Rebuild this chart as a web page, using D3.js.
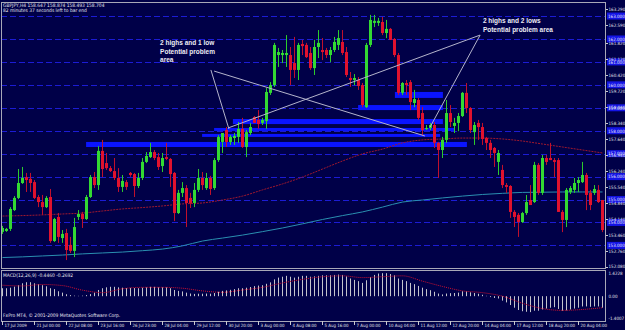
<!DOCTYPE html>
<html>
<head>
<meta charset="utf-8">
<script src="https://cdn.jsdelivr.net/npm/d3@7"></script>
<style>
  body { margin: 0; background: #000048; }
  svg { display: block; }
</style>
</head>
<body>
<div id="chart"></div>
<script>
// GBPJPY H4 candles: [open, high, low, close]
const bars = [
  [153.59,153.85,153.50,153.76],[153.63,153.76,153.59,153.72],[153.72,154.67,153.63,154.59],[154.54,155.15,154.50,155.07],
  [155.07,156.33,155.02,155.72],[155.72,156.42,155.68,155.94],[155.98,156.16,155.33,155.85],[155.90,156.16,155.33,155.72],
  [155.76,155.85,155.02,155.07],[155.11,155.20,154.67,154.89],[154.89,155.20,154.33,154.67],[154.67,155.15,154.63,155.07],
  [155.11,155.46,153.11,153.19],[153.19,154.20,153.15,154.15],[154.24,154.41,153.11,153.37],[153.32,153.67,153.11,153.50],
  [153.54,153.72,152.36,152.80],[153.02,153.37,152.67,152.76],[152.76,154.20,152.49,153.80],[154.24,154.54,154.11,154.37],
  [154.37,154.46,153.76,154.15],[154.15,155.20,154.11,155.11],[155.11,156.07,155.07,155.98],[155.98,156.20,155.50,155.63],
  [155.63,157.33,155.42,157.12],[157.12,157.60,155.98,156.33],[156.59,157.03,156.29,156.37],[156.37,156.46,156.20,156.24],
  [156.24,156.81,155.85,155.94],[155.94,156.37,155.33,155.55],[155.55,156.07,155.33,155.81],[155.76,155.85,155.42,155.55],
  [156.16,156.20,155.99,156.07],[156.11,156.16,155.11,155.59],[155.59,156.16,155.50,155.94],[155.94,156.81,155.85,156.64],
  [156.64,157.07,156.59,156.90],[156.85,157.47,156.81,157.07],[157.07,157.16,156.72,156.81],[156.85,157.03,156.29,156.42],
  [156.46,157.03,156.20,156.81],[156.85,157.47,156.72,156.77],[156.77,156.81,155.55,156.11],[156.16,156.20,154.06,154.41],
  [154.41,155.42,154.37,155.29],[155.29,155.76,155.11,155.50],[155.50,155.63,153.80,154.85],[155.07,155.29,154.63,154.85],
  [154.85,155.72,154.67,155.42],[155.42,156.33,155.33,155.94],[155.94,156.20,155.42,155.63],[155.50,156.16,155.42,155.94],
  [155.94,156.03,155.20,155.46],[155.50,156.81,155.42,156.72],[156.72,157.81,156.64,157.73],[157.51,157.90,157.03,157.90],
  [158.03,158.16,157.29,157.51],[157.51,157.81,157.38,157.73],[157.68,157.90,157.38,157.77],[157.73,158.38,157.47,158.08],
  [158.08,158.56,157.25,157.29],[157.29,158.03,156.85,157.94],[157.90,158.34,157.81,158.16],[158.60,158.64,158.34,158.34],
  [158.47,158.90,158.08,158.29],[158.34,158.56,158.25,158.47],[158.42,159.86,158.08,159.69],[159.65,160.12,159.56,159.99],
  [159.99,161.83,159.91,161.74],[161.30,161.61,160.78,161.43],[161.30,161.52,160.95,161.39],[161.30,162.17,160.78,161.39],
  [161.30,161.65,159.99,160.65],[160.95,162.09,160.30,160.65],[160.65,161.83,160.21,161.74],[161.78,161.96,161.30,161.69],
  [161.74,161.83,161.17,161.21],[161.39,161.65,160.65,160.73],[160.73,161.96,160.43,161.65],[161.65,162.39,161.17,161.83],
  [161.52,162.04,161.08,161.43],[161.52,161.61,161.17,161.30],[161.30,161.65,160.99,161.52],[161.52,162.09,161.43,161.87],
  [161.74,162.39,161.52,162.04],[161.87,162.39,161.30,161.39],[161.43,161.65,160.34,160.43],[160.30,160.56,159.91,160.21],
  [160.21,160.47,159.99,160.30],[160.21,160.34,159.78,159.95],[159.99,160.08,159.03,159.12],[159.03,161.83,158.99,161.74],
  [161.74,163.05,161.65,162.83],[162.70,163.05,162.52,162.79],[162.70,162.92,162.57,162.79],[162.74,162.96,162.17,162.26],
  [162.26,162.83,162.04,162.44],[162.44,162.48,161.96,161.96],[162.00,162.04,161.21,161.30],[161.30,161.39,159.56,159.65],
  [159.65,160.12,159.56,160.08],[160.08,160.21,159.56,159.99],[160.12,160.21,158.90,159.25],[159.21,159.78,159.03,159.38],
  [159.34,159.43,158.47,158.56],[158.77,159.03,157.81,158.03],[158.08,158.25,158.03,158.12],[158.12,158.34,158.03,158.25],
  [158.25,158.38,157.25,157.47],[157.47,157.51,155.94,157.16],[157.16,157.73,156.81,157.60],[157.60,159.34,157.47,158.77],
  [158.77,159.12,158.16,158.38],[158.21,158.56,157.90,158.34],[158.34,158.77,157.98,158.64],[158.64,159.69,158.60,159.65],
  [159.65,160.08,158.77,158.99],[158.99,159.03,157.90,158.03],[157.94,158.38,157.38,158.25],[158.34,158.47,157.60,158.16],
  [158.16,158.34,157.38,157.64],[157.68,157.73,157.16,157.47],[157.47,157.60,156.81,157.16],[157.25,157.29,156.42,157.03],
  [156.64,157.16,156.07,157.03],[156.29,156.51,155.50,155.63],[155.63,155.72,155.29,155.55],[155.59,155.63,154.20,154.46],
  [154.46,154.54,153.80,154.24],[154.33,154.41,153.37,154.02],[154.02,154.46,153.98,154.41],[154.41,155.20,154.33,154.89],
  [154.98,155.63,154.76,154.76],[154.89,156.64,154.85,156.51],[156.51,156.59,155.20,155.29],[155.29,156.94,155.20,156.81],
  [156.81,156.94,156.51,156.64],[156.81,157.47,156.72,156.72],[156.72,156.81,155.98,156.64],[156.72,156.81,154.46,154.46],
  [154.46,154.54,153.58,154.11],[154.11,155.50,153.80,155.42],[155.33,155.59,155.24,155.50],[155.42,155.94,155.29,155.72],
  [155.72,155.98,155.33,155.85],[155.76,156.64,155.72,156.07],[156.07,156.16,154.54,155.20],[155.29,155.42,154.54,154.76],
  [155.29,155.63,155.20,155.46],[155.42,155.63,154.85,154.89],[154.98,154.98,153.58,153.67]
];

// date labels, one every 8 bars
const dateLabels = ["17 Jul 2009","21 Jul 00:00","22 Jul 08:00","23 Jul 16:00","26 Jul 23:00","28 Jul 04:00",
  "29 Jul 12:00","30 Jul 20:00","3 Aug 00:00","4 Aug 08:00","5 Aug 16:00","7 Aug 00:00","10 Aug 04:00",
  "11 Aug 12:00","12 Aug 20:00","14 Aug 04:00","17 Aug 12:00","18 Aug 20:00","20 Aug 04:00"];

const priceTicks = [163.29,162.59,161.82,161.12,160.42,159.72,159.04,158.34,157.64,156.94,156.24,155.54,154.84,154.14,153.46,152.76,152.08];

// moving averages, read every 5 bars
const maBars = d3.range(0, 151, 5);
const maRed = [154.28,154.30,154.33,154.37,154.41,154.50,154.59,154.65,154.72,154.81,154.85,154.98,155.15,155.42,155.68,
  155.98,156.33,156.68,156.99,157.20,157.47,157.60,157.64,157.68,157.68,157.64,157.55,157.42,157.29,157.16,157.03];
const maTeal = [152.47,152.50,152.54,152.58,152.63,152.67,152.71,152.77,152.84,152.98,153.19,153.32,153.45,153.60,153.76,
  153.94,154.13,154.30,154.46,154.67,154.89,154.98,155.07,155.15,155.22,155.27,155.31,155.32,155.33,155.33,155.33];

// horizontal levels and drawn rectangles [fromBar, toBar, top, bottom]
const levels = [163,162,161,160,159,158,157,156,155,154,153];
const bands = [
  [98.1,110.1,159.69,159.43],[88.9,110.1,159.12,158.90],[57.6,110.1,158.51,158.29],
  [52.9,113.1,158.12,157.99],[49.9,109.4,157.86,157.73],[20.9,116.1,157.51,157.29]
];
// trend lines [bar1, price1, bar2, price2]
const trendLines = [
  [52.1,160.65,56.6,158.08],[52.9,160.60,105.6,157.77],
  [56.4,158.12,119.4,162.17],[119.4,162.17,106.9,158.16]
];
const notes = [
  {bar: 39.4, price: 161.72, lines: ["2 highs and 1 low","Potential problem","area"]},
  {bar: 120.1, price: 162.68, lines: ["2 highs and 2 lows","Potential problem area"]}
];

// MACD(12,26,9)
const macdHist = [0.45,0.45,0.48,0.54,0.62,0.73,0.79,0.79,0.73,0.68,0.62,0.56,0.45,0.40,0.28,0.20,0.11,0.06,0.03,0.02,
  0.03,0.06,0.12,0.20,0.35,0.45,0.50,0.53,0.53,0.50,0.48,0.46,0.47,0.46,0.45,0.48,0.50,0.53,0.53,0.50,0.50,0.50,
  0.45,0.35,0.30,0.27,0.20,0.15,0.13,0.14,0.14,0.15,0.14,0.18,0.25,0.30,0.33,0.36,0.40,0.45,
  0.45,0.48,0.52,0.57,0.60,0.62,0.70,0.78,0.95,1.05,1.10,1.15,1.10,1.05,1.10,1.15,1.15,1.10,1.12,1.15,
  1.18,1.18,1.18,1.20,1.22,1.20,1.12,1.00,0.92,0.85,0.75,0.90,1.08,1.20,1.28,1.30,1.30,1.25,1.18,1.00,
  0.92,0.85,0.75,0.68,0.58,0.48,0.40,0.34,0.25,0.15,0.10,0.15,0.17,0.18,0.20,0.28,0.28,0.22,0.18,0.14,
  0.08,0.02,-0.05,-0.10,-0.13,-0.25,-0.35,-0.50,-0.65,-0.78,-0.85,-0.88,-0.90,-0.82,-0.82,-0.75,-0.70,-0.65,-0.62,-0.72,
  -0.82,-0.80,-0.75,-0.70,-0.65,-0.58,-0.58,-0.60,-0.58,-0.58,-0.65];
const macdSignal = [0.62,0.58,0.66,0.60,0.34,0.20,0.42,0.50,0.50,0.45,0.30,0.22,0.35,0.50,0.75,0.95,1.10,1.15,1.05,1.10,
  1.15,0.85,0.55,0.30,0.20,0.00,-0.40,-0.70,-0.80,-0.75,-0.65];

const width = 625, height = 330;
const left = 1, right = 606, mainTop = 2, mainBottom = 268, subTop = 271, subBottom = 321;
const font = "Tahoma, 'DejaVu Sans Condensed', 'Liberation Sans', sans-serif";

const svg = d3.select('#chart').append('svg').attr('width', width).attr('height', height);
svg.append('rect').attr('width', width).attr('height', height).attr('fill', '#000048');

const x = d3.scaleLinear().domain([0, 150]).range([2.5, 602.5]);
const y = d3.scaleLinear().domain([152.08, 163.22]).range([266.5, 11]);
const ym = d3.scaleLinear().domain([-1.4007, 1.4228]).range([subBottom, subTop]);

svg.append('clipPath').attr('id', 'main').append('rect')
  .attr('x', left).attr('y', mainTop).attr('width', right - left).attr('height', mainBottom - mainTop);
svg.append('clipPath').attr('id', 'sub').append('rect')
  .attr('x', left).attr('y', subTop).attr('width', right - left).attr('height', subBottom - subTop);

const main = svg.append('g').attr('clip-path', 'url(#main)');

// horizontal level lines
main.append('g').selectAll('line').data(levels).join('line')
  .attr('x1', left).attr('x2', right).attr('y1', d => Math.round(y(d)) + 0.5).attr('y2', d => Math.round(y(d)) + 0.5)
  .attr('stroke', '#1c1cd4').attr('stroke-dasharray', '6,3');

// drawn rectangles
main.append('g').selectAll('rect').data(bands).join('rect')
  .attr('x', d => x(d[0])).attr('width', d => x(d[1]) - x(d[0]))
  .attr('y', d => y(d[2])).attr('height', d => y(d[3]) - y(d[2]))
  .attr('fill', '#0a14ff');

// moving averages
const maLine = d3.line().x((d, i) => x(maBars[i])).y(d => y(d)).curve(d3.curveMonotoneX);
main.append('path').datum(maTeal).attr('d', maLine).attr('fill', 'none').attr('stroke', '#2a8fb0').attr('stroke-width', 1);
main.append('path').datum(maRed).attr('d', maLine).attr('fill', 'none').attr('stroke', '#a0182e')
  .attr('stroke-width', 1).attr('stroke-dasharray', '2,1');

// candles
const up = d => d[3] >= d[0];
const candles = main.append('g').selectAll('g').data(bars).join('g');
candles.append('line')
  .attr('x1', (d, i) => Math.floor(x(i)) + 0.5).attr('x2', (d, i) => Math.floor(x(i)) + 0.5)
  .attr('y1', d => y(d[1])).attr('y2', d => y(d[2]))
  .attr('stroke', d => up(d) ? '#2ccc2c' : '#c0102c');
candles.append('rect')
  .attr('x', (d, i) => Math.floor(x(i)) - 1).attr('width', 3)
  .attr('y', d => y(Math.max(d[0], d[3])))
  .attr('height', d => Math.max(1, y(Math.min(d[0], d[3])) - y(Math.max(d[0], d[3]))))
  .attr('fill', d => up(d) ? '#33d933' : '#e0122e');

// trend lines
main.append('g').selectAll('line').data(trendLines).join('line')
  .attr('x1', d => x(d[0])).attr('y1', d => y(d[1])).attr('x2', d => x(d[2])).attr('y2', d => y(d[3]))
  .attr('stroke', '#b4b4cc').attr('stroke-width', 1);

// notes
notes.forEach(n => {
  const t = main.append('text').attr('x', x(n.bar)).attr('y', y(n.price))
    .attr('fill', '#ececf4').attr('font-family', "'Liberation Sans', Arial, sans-serif")
    .attr('font-size', 6.5).attr('font-weight', 'bold');
  n.lines.forEach((s, k) => t.append('tspan').attr('x', x(n.bar)).attr('dy', k ? 8.5 : 0).text(s));
});

// MACD panel
const sub = svg.append('g').attr('clip-path', 'url(#sub)');
sub.append('g').selectAll('line').data(macdHist).join('line')
  .attr('x1', (d, i) => Math.floor(x(i)) + 0.5).attr('x2', (d, i) => Math.floor(x(i)) + 0.5)
  .attr('y1', ym(0)).attr('y2', d => ym(d))
  .attr('stroke', '#c4c4cc');
sub.append('path').datum(macdSignal)
  .attr('d', d3.line().x((d, i) => x(maBars[i])).y(d => ym(d)).curve(d3.curveMonotoneX))
  .attr('fill', 'none').attr('stroke', '#d01030').attr('stroke-dasharray', '1,1');

// frames
const frame = svg.append('g').attr('fill', 'none').attr('stroke', '#a8a8b8');
frame.append('rect').attr('x', left + 0.5).attr('y', mainTop + 0.5).attr('width', right - left - 1).attr('height', mainBottom - mainTop);
frame.append('rect').attr('x', left + 0.5).attr('y', subTop - 0.5).attr('width', right - left - 1).attr('height', subBottom - subTop + 1);

// level labels on axis (drawn under the tick labels)
const lvl = svg.append('g').attr('font-family', font).attr('font-size', 4.5).selectAll('g')
  .data(levels.filter(d => y(d) > mainTop && y(d) < mainBottom)).join('g');
lvl.append('rect').attr('x', right + 1).attr('y', d => y(d) - 3.5).attr('width', 18).attr('height', 7).attr('fill', '#1414e6');
lvl.append('text').attr('x', right + 2).attr('y', d => y(d) + 1.8).attr('fill', '#e8e8f8').text(d => d.toFixed(3));

// price axis
const axisG = svg.append('g').attr('font-family', font).attr('font-size', 4.5);
axisG.selectAll('line.tick').data(priceTicks).join('line')
  .attr('x1', right).attr('x2', right + 2).attr('y1', d => Math.round(y(d)) + 0.5).attr('y2', d => Math.round(y(d)) + 0.5)
  .attr('stroke', '#c8c8d0');
axisG.selectAll('text.tick').data(priceTicks).join('text')
  .attr('x', right + 2.5).attr('y', d => y(d) + 1.8).attr('fill', '#e4e4ec').text(d => d.toFixed(3));

// MACD axis labels
const macdTicks = [1.4228, 0, -1.4007];
axisG.selectAll('text.m').data(macdTicks).join('text')
  .attr('x', right + 2.5).attr('y', d => ym(d) + (d > 0 ? 4 : d < 0 ? -1 : 2)).attr('fill', '#e4e4ec')
  .text(d => d === 0 ? '0.00' : d.toFixed(4));

// time axis
const timeG = svg.append('g').attr('font-family', font).attr('font-size', 4.4);
const tIdx = dateLabels.map((d, k) => k * 8);
timeG.selectAll('line').data(tIdx).join('line')
  .attr('x1', d => Math.floor(x(d)) + 0.5).attr('x2', d => Math.floor(x(d)) + 0.5).attr('y1', subBottom).attr('y2', subBottom + 4)
  .attr('stroke', '#c8c8d0');
timeG.selectAll('text').data(tIdx).join('text')
  .attr('x', d => x(d) + 2).attr('y', 327).attr('fill', '#e4e4ec').text((d, k) => dateLabels[k]);

// header texts
const info = svg.append('g').attr('font-family', font).attr('font-size', 4.9).attr('fill', '#e8e8f0');
info.append('text').attr('x', 3).attr('y', 7).text('GBPJPY,H4  158.647 158.874 158.493 158.704');
info.append('text').attr('x', 3).attr('y', 12).text('82 minutes 37 seconds left to bar end');
info.append('text').attr('x', 3).attr('y', 277).text('MACD(12,26,9) -0.4460 -0.2692');
info.append('text').attr('x', 3).attr('y', 317).text('FxPro MT4, \u00a9 2001-2009 MetaQuotes Software Corp.');
</script>
</body>
</html>
